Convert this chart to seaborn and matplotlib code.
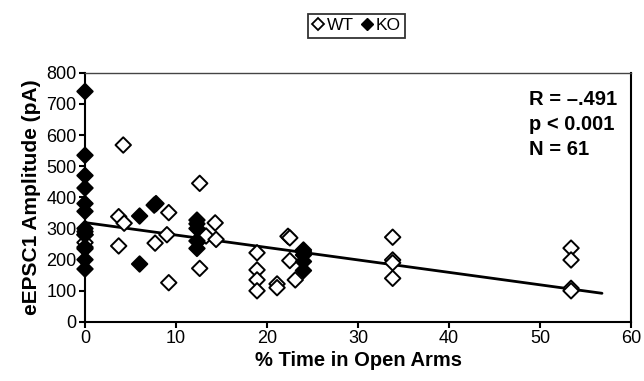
import numpy as np
import pandas as pd
import seaborn as sns
import matplotlib.pyplot as plt
from matplotlib.lines import Line2D

# WT (open diamonds)
wt_time = [0, 0, 3.7, 4.2, 4.3, 3.7, 7.7, 9.2, 9.0, 9.2, 12.6, 12.6, 12.8,
           14.3, 13.3, 14.4, 18.9, 18.9, 18.9, 18.9, 21.1, 21.1, 22.3, 22.5,
           22.5, 23.1, 33.8, 33.8, 33.8, 33.8, 53.4, 53.4, 53.4, 53.4]
wt_amp = [255, 280, 338, 568, 317, 244, 253, 351, 280, 126, 445, 172, 270,
          318, 276, 265, 222, 167, 135, 100, 122, 110, 275, 270,
          197, 135, 272, 199, 190, 140, 237, 199, 108, 100]

# KO (filled diamonds)
ko_time = [0, 0, 0, 0, 0, 0, 0, 0, 0, 0, 0, 0, 0,
           6.0, 6.0, 7.8, 7.6, 12.3, 12.3, 12.3, 12.3, 12.3,
           24.0, 24.0, 24.0, 24.0, 24.0]
ko_amp = [740, 535, 470, 430, 380, 355, 300, 290, 280, 240, 235, 200, 170,
          340, 186, 380, 375, 327, 315, 300, 260, 236,
          231, 225, 215, 194, 165]

# trendline end points
trend_x = [0, 56.8]
trend_y = [319, 92]

stats_text = "R = \u2013.491\np < 0.001\nN = 61"

df = pd.DataFrame({
    "time": wt_time + ko_time,
    "amp": wt_amp + ko_amp,
    "group": ["WT"] * len(wt_time) + ["KO"] * len(ko_time),
})
trend = pd.DataFrame({"x": trend_x, "y": trend_y})

sns.set_style("ticks")
plt.rcParams["font.family"] = ["Liberation Sans", "DejaVu Sans"]
plt.rcParams["text.color"] = "black"
plt.rcParams["axes.labelcolor"] = "black"
plt.rcParams["xtick.color"] = "black"
plt.rcParams["ytick.color"] = "black"

fig = plt.figure(figsize=(6.44, 3.81), dpi=100)
ax = fig.add_axes([0.132, 0.155, 0.848, 0.654])

sns.lineplot(data=trend, x="x", y="y", color="black", linewidth=2, ax=ax)
sns.scatterplot(data=df, x="time", y="amp", hue="group",
                palette={"WT": "white", "KO": "black"}, marker="D", s=62,
                edgecolor="black", linewidth=1.4, legend=False, ax=ax,
                clip_on=False, zorder=3)

ax.set_xlim(0, 60)
ax.set_ylim(0, 800)
ax.set_xticks(range(0, 61, 10))
ax.set_yticks(range(0, 801, 100))
ax.tick_params(labelsize=13, width=1.5, length=4, color="black", pad=2)
ax.set_xlabel("% Time in Open Arms", fontsize=14.5, fontweight="bold",
              labelpad=3)
ax.set_ylabel("eEPSC1 Amplitude (pA)", fontsize=15, fontweight="bold",
              labelpad=4)
for s in ax.spines.values():
    s.set_color("black")
    s.set_linewidth(1.5)
ax.spines["top"].set_linewidth(1.0)
ax.spines["top"].set_color("#444444")

ax.text(0.813, 0.93, stats_text, transform=ax.transAxes, fontsize=14.5,
        fontweight="bold", va="top", ha="left", linespacing=1.4)

handles = [
    Line2D([], [], marker="D", linestyle="none", markerfacecolor="white",
           markeredgecolor="black", markersize=6, markeredgewidth=1.3),
    Line2D([], [], marker="D", linestyle="none", markerfacecolor="black",
           markeredgecolor="black", markersize=6),
]
leg = fig.legend(handles, ["WT", "KO"], loc="center",
                 bbox_to_anchor=(0.554, 0.932), ncol=2, fontsize=12.5,
                 frameon=True, fancybox=False, handlelength=0.6,
                 handletextpad=0.2, columnspacing=0.5, borderpad=0.25)
leg.get_frame().set_edgecolor("black")
leg.get_frame().set_linewidth(1.3)

fig.savefig("out.png", dpi=100)
